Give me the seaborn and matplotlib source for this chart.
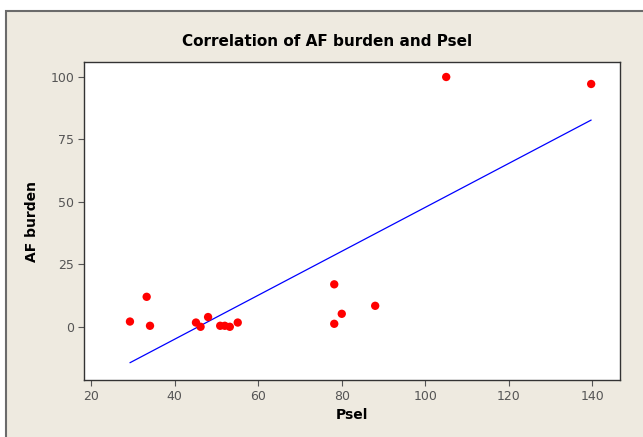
import matplotlib
matplotlib.use("Agg")
import matplotlib.pyplot as plt
import seaborn as sns
import pandas as pd
from matplotlib.patches import Rectangle

psel = [29.3, 33.3, 34.1, 45.1, 46.2, 48.0, 50.9, 52.0, 53.2, 55.1,
        78.2, 78.2, 80.0, 88.0, 105.0, 139.7]
af_burden = [2.1, 12.0, 0.4, 1.7, 0.0, 3.9, 0.4, 0.4, 0.0, 1.7,
             17.0, 1.2, 5.2, 8.4, 100.0, 97.2]
x_ticks = [20, 40, 60, 80, 100, 120, 140]
y_ticks = [0, 25, 50, 75, 100]

df = pd.DataFrame({"Psel": psel, "AF burden": af_burden})

sns.set_style("ticks")
plt.rcParams['font.family'] = ['DejaVu Sans']

W, H = 643, 437
fig = plt.figure(figsize=(W / 100, H / 100), dpi=100, facecolor="white")
bg = "#EEEAE0"
fig.patches.append(Rectangle((6 / W, -0.05), 1.1, (H - 11) / H + 0.05,
                             transform=fig.transFigure, facecolor=bg,
                             edgecolor="#6b6b6b", linewidth=1.5, zorder=-10))

ax = fig.add_axes([84 / W, (H - 380) / H, (620 - 84) / W, (380 - 62) / H])
ax.set_zorder(1)
ax.set_facecolor("white")

sns.regplot(data=df, x="Psel", y="AF burden", ax=ax, ci=None, truncate=True,
            scatter_kws=dict(color="#FF0000", s=36, edgecolor="none", alpha=1, zorder=3),
            line_kws=dict(color="#0000FF", linewidth=0.9, zorder=2))

ax.set_xlim(18.3, 146.6)
ax.set_ylim(-21.3, 106)
ax.set_xticks(x_ticks)
ax.set_yticks(y_ticks)
for s in ax.spines.values():
    s.set_visible(True)
    s.set_color("#333333")
    s.set_linewidth(1.0)
ax.tick_params(axis="both", direction="out", length=4, width=0.8,
               color="#555555", labelcolor="#555555", labelsize=9, pad=3)

ax.set_xlabel("Psel", fontsize=10, fontweight="bold", color="black", labelpad=4)
ax.set_ylabel("AF burden", fontsize=10, fontweight="bold", color="black", labelpad=8)
fig.text(327 / W, (H - 41) / H, "Correlation of AF burden and Psel",
         ha="center", va="center", fontsize=11, fontweight="bold", color="black")

fig.savefig("out.png", dpi=100, facecolor=fig.get_facecolor())
